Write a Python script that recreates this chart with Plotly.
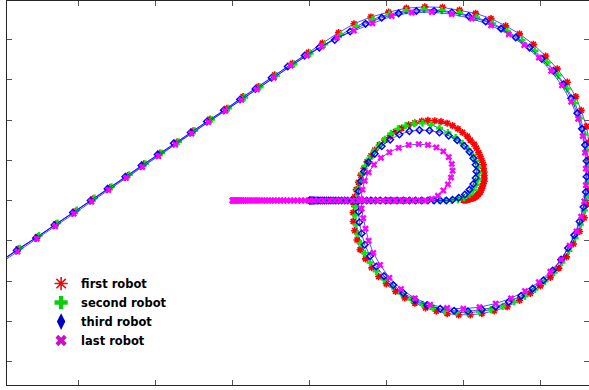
import plotly.graph_objects as go

# ---------------- data (robot positions) ----------------
red_x = [3.00,3.02,3.04,3.05,3.07,3.09,3.11,3.13,3.15,3.17,3.19,3.20,3.22,3.23,3.24,3.25,3.26,3.27,3.27,3.27,
         3.27,3.26,3.26,3.24,3.22,3.20,3.17,3.14,3.09,3.05,2.99,2.93,2.86,2.79,2.71,2.63,2.54,2.46,2.37,2.29,
         2.20,2.12,2.05,1.98,1.91,1.85,1.80,1.75,1.71,1.67,1.64,1.61,1.59,1.58,1.57,
         1.57,1.59,1.62,1.66,1.73,1.81,1.90,2.00,2.12,2.24,2.37,2.51,2.65,2.79,2.94,3.09,3.24,3.40,3.57,3.73,
         3.87,4.00,4.13,4.24,4.34,4.43,4.51,4.57,4.61,4.64,4.65,4.65,4.63,4.60,4.53,4.46,4.35,4.22,4.07,3.91,
         3.73,3.55,3.36,3.16,2.95,2.73,2.50,2.26,2.03,1.80,1.58,1.38,1.17,0.99,0.78,0.55,0.34,0.14,-0.07,-0.29,
         -0.51,-0.72,-0.94,-1.15,-1.36,-1.59,-1.81,-2.04,-2.29,-2.53,-2.78,-3.02]
red_y = [0.01,0.01,0.01,0.02,0.03,0.04,0.05,0.06,0.08,0.11,0.14,0.17,0.21,0.26,0.31,0.36,0.42,0.48,0.55,0.62,
         0.71,0.80,0.89,0.99,1.09,1.19,1.30,1.40,1.50,1.60,1.69,1.78,1.86,1.92,1.96,1.98,1.99,1.97,1.93,1.88,
         1.80,1.71,1.61,1.50,1.38,1.25,1.11,0.96,0.80,0.63,0.45,0.27,0.09,-0.10,-0.30,
         -0.52,-0.75,-0.98,-1.22,-1.45,-1.67,-1.89,-2.07,-2.26,-2.42,-2.55,-2.67,-2.75,-2.81,-2.84,-2.84,-2.81,-2.74,-2.64,-2.48,
         -2.31,-2.12,-1.91,-1.68,-1.40,-1.08,-0.77,-0.43,-0.09,0.29,0.66,1.04,1.45,1.84,2.24,2.58,2.94,3.27,3.59,3.88,
         4.14,4.34,4.52,4.65,4.73,4.80,4.81,4.78,4.68,4.56,4.39,4.17,3.91,3.68,3.41,3.12,2.83,2.58,2.29,2.02,
         1.73,1.45,1.18,0.91,0.62,0.32,0.04,-0.27,-0.58,-0.90,-1.20,-1.52]

green_x = [2.00,2.005,2.012,2.02,2.03,2.043,2.058,2.075,2.095,2.12,2.15,2.19,2.24,2.30,2.37,2.45,2.53,2.61,2.69,2.77,2.85,
           2.93,3.01,3.08,3.13,3.17,3.19,3.20,3.19,3.16,3.12,3.06,2.99,2.90,2.80,2.69,2.58,2.47,2.36,2.25,2.15,
           2.06,1.98,1.91,1.84,1.78,1.73,1.69,1.66,1.63,1.61,1.60,1.60,
           1.61,1.63,1.67,1.72,1.79,1.87,1.97,2.08,2.20,2.33,2.47,2.61,2.76,2.91,3.06,3.21,3.36,3.51,3.66,3.80,
           3.93,4.06,4.18,4.28,4.37,4.45,4.52,4.57,4.60,4.62,4.62,4.61,4.58,4.52,4.45,4.35,4.23,4.09,3.93,3.76,
           3.57,3.38,3.17,2.95,2.72,2.49,2.26,2.04,1.82,1.61,1.41,1.20,1.01,0.80,0.57,0.36,0.16,-0.05,-0.27,-0.49,
           -0.70,-0.92,-1.13,-1.34,-1.57,-1.79,-2.02,-2.27,-2.51,-2.76,-3.00]
green_y = [0.00,0.00,0.00,0.00,0.00,0.00,0.00,0.00,0.00,0.00,0.00,0.00,0.00,0.00,0.00,0.00,0.00,0.00,0.00,0.00,0.00,
           0.02,0.07,0.15,0.26,0.39,0.53,0.68,0.83,0.98,1.13,1.28,1.42,1.56,1.69,1.80,1.88,1.92,1.91,1.86,1.78,
           1.66,1.52,1.37,1.21,1.04,0.86,0.67,0.47,0.27,0.06,-0.15,-0.37,
           -0.60,-0.83,-1.07,-1.31,-1.54,-1.76,-1.96,-2.14,-2.31,-2.46,-2.58,-2.67,-2.74,-2.78,-2.79,-2.76,-2.71,-2.63,-2.52,-2.38,
           -2.21,-2.01,-1.79,-1.54,-1.25,-0.93,-0.60,-0.25,0.10,0.47,0.85,1.25,1.64,2.04,2.42,2.78,3.11,3.43,3.72,3.98,
           4.21,4.40,4.55,4.66,4.72,4.75,4.72,4.63,4.50,4.33,4.12,3.88,3.65,3.39,3.10,2.82,2.56,2.29,2.01,1.73,
           1.46,1.18,0.91,0.64,0.34,0.06,-0.24,-0.56,-0.87,-1.19,-1.50]

blue_x = [1.00,1.005,1.012,1.02,1.03,1.042,1.055,1.07,1.087,1.105,1.125,1.147,1.17,1.195,1.222,1.25,1.28,1.31,1.345,1.38,
          1.42,1.46,1.50,1.545,1.59,1.64,1.69,1.745,1.80,1.86,1.92,1.99,2.06,2.14,2.22,2.30,2.38,2.46,2.54,2.62,2.70,2.78,
          2.86,2.94,3.02,3.08,3.13,3.16,3.17,3.16,3.13,3.08,3.01,2.92,2.81,2.69,2.56,2.43,2.30,2.17,2.05,1.94,
          1.85,1.77,1.71,1.67,1.64,1.63,1.64,1.65,1.68,1.72,1.79,1.87,1.97,2.09,2.22,2.37,2.53,2.70,2.88,3.06,
          3.24,3.42,3.59,3.75,3.90,4.04,4.16,4.27,4.36,4.44,4.51,4.56,4.59,4.60,4.60,4.58,4.54,4.48,4.40,4.30,
          4.17,4.02,3.86,3.68,3.49,3.29,3.07,2.85,2.62,2.39,2.16,1.94,1.73,1.53,1.33,1.13,0.94,0.72,0.51,0.30,
          0.10,-0.11,-0.33,-0.54,-0.76,-0.97,-1.18,-1.39,-1.62,-1.84,-2.07,-2.31,-2.55,-2.80,-3.04]
blue_y = [0.00,0.00,0.00,0.00,0.00,0.00,0.00,0.00,0.00,0.00,0.00,0.00,0.00,0.00,0.00,0.00,0.00,0.00,0.00,0.00,
          0.00,0.00,0.00,0.00,0.00,0.00,0.00,0.00,0.00,0.00,0.00,0.00,0.00,0.00,0.00,0.00,0.00,0.00,0.00,0.00,0.00,0.00,
          0.02,0.07,0.15,0.27,0.41,0.56,0.72,0.89,1.05,1.21,1.36,1.50,1.61,1.69,1.74,1.75,1.72,1.64,1.51,1.35,
          1.16,0.95,0.72,0.48,0.23,-0.02,-0.28,-0.54,-0.82,-1.10,-1.38,-1.64,-1.88,-2.10,-2.30,-2.47,-2.60,-2.69,-2.74,-2.75,
          -2.71,-2.64,-2.52,-2.37,-2.19,-1.98,-1.74,-1.47,-1.18,-0.86,-0.52,-0.16,0.21,0.59,0.98,1.38,1.78,2.17,2.54,2.89,
          3.22,3.52,3.80,4.05,4.27,4.45,4.58,4.67,4.71,4.71,4.65,4.54,4.39,4.20,3.99,3.80,3.60,3.33,3.05,2.77,
          2.51,2.24,1.96,1.69,1.42,1.14,0.87,0.59,0.29,0.00,-0.30,-0.61,-0.93,-1.24,-1.56]

magenta_x = [0.00,0.005,0.012,0.02,0.03,0.042,0.055,0.07,0.087,0.105,0.125,0.147,0.17,0.195,0.22,0.247,0.275,0.305,0.335,0.367,
             0.40,0.435,0.47,0.507,0.545,0.585,0.625,0.667,0.71,0.755,0.80,0.847,0.895,0.945,1.00,1.06,1.12,1.19,1.26,1.33,
             1.40,1.48,1.56,1.64,1.72,1.80,1.88,1.96,2.04,2.12,2.20,2.28,2.36,2.44,2.51,
             2.59,2.67,2.74,2.80,2.84,2.86,2.85,2.81,2.74,2.65,2.54,2.42,2.29,2.16,2.04,1.93,1.84,1.77,1.72,1.69,1.67,1.68,1.70,
             1.73,1.77,1.83,1.92,2.04,2.19,2.37,2.57,2.79,3.00,3.21,3.42,3.62,3.80,3.98,4.13,4.27,4.38,4.47,4.53,
             4.57,4.59,4.59,4.58,4.55,4.49,4.40,4.28,4.14,3.98,3.79,3.59,3.36,3.11,2.85,2.59,2.33,2.07,1.82,1.58,
             1.36,1.16,0.97,0.76,0.54,0.32,0.12,-0.09,-0.31,-0.53,-0.74,-0.96,-1.17,-1.38,-1.61,-1.83,-2.06,-2.30,-2.54,-2.79,-3.03]
magenta_y = [0.00,0.00,0.00,0.00,0.00,0.00,0.00,0.00,0.00,0.00,0.00,0.00,0.00,0.00,0.00,0.00,0.00,0.00,0.00,0.00,
             0.00,0.00,0.00,0.00,0.00,0.00,0.00,0.00,0.00,0.00,0.00,0.00,0.00,0.00,0.00,0.00,0.00,0.00,0.00,0.00,
             0.00,0.00,0.00,0.00,0.00,0.00,0.00,0.00,0.00,0.00,0.00,0.00,0.00,0.00,0.00,
             0.04,0.12,0.25,0.40,0.57,0.74,0.91,1.08,1.22,1.32,1.38,1.40,1.38,1.31,1.20,1.06,0.89,0.70,0.49,0.27,0.04,-0.20,-0.44,
             -0.70,-1.00,-1.30,-1.60,-1.92,-2.20,-2.43,-2.59,-2.67,-2.69,-2.65,-2.56,-2.43,-2.25,-2.03,-1.77,-1.47,-1.12,-0.77,-0.40,
             -0.02,0.38,0.79,1.19,1.60,2.03,2.45,2.86,3.22,3.55,3.86,4.13,4.35,4.52,4.63,4.68,4.67,4.58,4.40,4.22,
             4.05,3.83,3.60,3.35,3.05,2.76,2.50,2.23,1.95,1.66,1.39,1.10,0.83,0.56,0.26,-0.03,-0.33,-0.64,-0.95,-1.27,-1.58]

robot_names = ["first robot", "second robot", "third robot", "last robot"]
x_ticks = [-2, -1, 0, 1, 2, 3, 4]
y_ticks = [-4, -3, -2, -1, 0, 1, 2, 3, 4]

# ---------------- styling ----------------
series = [
    (red_x, red_y, dict(symbol="asterisk-open", size=6, color="#ff0000", line=dict(color="#ff0000", width=1.6))),
    (green_x, green_y, dict(symbol="cross", size=6, color="#00ee00", line=dict(width=0))),
    (blue_x, blue_y, dict(symbol="diamond-open", size=5, color="#0000ff", line=dict(color="#0000ff", width=1.5))),
    (magenta_x, magenta_y, dict(symbol="x", size=6, color="#ff00ff", line=dict(width=0))),
]
legend_markers = [
    dict(symbol="asterisk-open", size=11, color="#e01010", line=dict(color="#e01010", width=1.6)),
    dict(symbol="cross", size=11, color="#10cc10", line=dict(width=0)),
    dict(symbol="diamond-tall", size=12, color="#0000c0", line=dict(width=0)),
    dict(symbol="x", size=10, color="#c810c8", line=dict(width=0)),
]

fig = go.Figure()
for (xs, ys, mk) in series:
    fig.add_trace(go.Scatter(x=xs, y=ys, mode="lines+markers",
                             line=dict(color="rgba(0,0,255,0.85)", width=0.8),
                             marker=mk, showlegend=False, hoverinfo="skip"))
for name, mk in zip(robot_names, legend_markers):
    fig.add_trace(go.Scatter(x=[None], y=[None], mode="markers", marker=mk, name=name))

axis_common = dict(showgrid=False, zeroline=False, showline=True, linecolor="#262626", linewidth=1,
                   mirror="ticks", ticks="inside", ticklen=5, tickwidth=1, tickcolor="#555555",
                   showticklabels=False)
fig.update_layout(
    width=589, height=390,
    margin=dict(l=7, r=0, t=1, b=5),
    paper_bgcolor="white", plot_bgcolor="white",
    xaxis=dict(range=[-2.926, 4.632], tickvals=x_ticks, **axis_common),
    yaxis=dict(range=[-4.584, 4.957], tickvals=y_ticks, **axis_common),
    legend=dict(x=0.0586, y=0.302, xanchor="left", yanchor="top", bgcolor="rgba(0,0,0,0)",
                font=dict(family="DejaVu Sans", size=11.5, color="#000000", weight="bold"),
                tracegroupgap=0),
    font=dict(family="DejaVu Sans"),
)
fig.write_html("out.html", config={"displayModeBar": False},
               post_script="document.body.style.margin='0';document.body.style.padding='0';"
                           "document.body.style.overflow='hidden';")
